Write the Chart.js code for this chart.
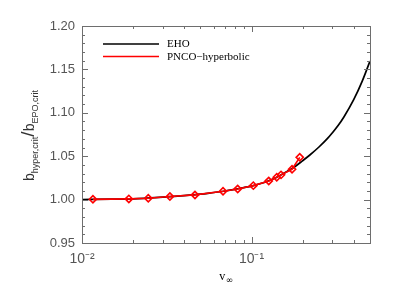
<!DOCTYPE html>
<html>
<head>
<meta charset="utf-8">
<script src="https://cdn.jsdelivr.net/npm/chart.js@4/dist/chart.umd.min.js"></script>
<style>
html,body{margin:0;padding:0;background:#fff;}
#wrap{width:395px;height:296px;}
</style>
</head>
<body>
<div id="wrap"><canvas id="c" width="395" height="296"></canvas></div>
<script>
// EHO curve
const vEHO = [0.01,0.015,0.02,0.03,0.04,0.05,0.06,0.07,0.08,0.09,0.1,0.12,0.14,0.16,0.18,0.2,0.22,0.25,0.28,0.3,0.325,0.35,0.4,0.45,0.5];
const bEHO = [1.0001,1.0005,1.0009,1.0028,1.0045,1.0062,1.0082,1.0099,1.0119,1.0138,1.0156,1.0200,1.0255,1.0317,1.0379,1.0447,1.0511,1.0606,1.0702,1.0770,1.0856,1.0949,1.1148,1.1365,1.1596];
// PNCO-hyperbolic points
const vPNCO = [0.0116,0.0189,0.0246,0.033,0.0464,0.0679,0.0829,0.1025,0.1264,0.1409,0.1493,0.1734,0.1925];
const bPNCO = [1.0003,1.0008,1.0015,1.0035,1.0054,1.0096,1.0123,1.0161,1.0215,1.0257,1.0285,1.0349,1.0487];
// ticks
const xMajor = [0.01,0.1];
const xMajorLabels = ['10\u207B\u00B2','10\u207B\u00B9'];
const xMinor = [0.02,0.03,0.04,0.05,0.06,0.07,0.08,0.09,0.2,0.3,0.4];
const yMajor = [0.95,1.00,1.05,1.10,1.15,1.20];
const yMinorStep = 0.01;
const seriesNames = ['EHO','PNCO\u2212hyperbolic'];

const frameColor = '#6e6e6e';
const textColor = '#555';

const decor = {
  id:'decor',
  afterDraw(chart){
    const ctx = chart.ctx, a = chart.chartArea;
    const xs = chart.scales.x, ys = chart.scales.y;
    ctx.save();
    ctx.strokeStyle = frameColor; ctx.lineWidth = 1;
    ctx.strokeRect(a.left+0.5, a.top+0.5, a.right-a.left, a.bottom-a.top);
    ctx.beginPath();
    // y ticks
    for (let v = 0.95; v <= 1.2001; v += yMinorStep) {
      const y = Math.round(ys.getPixelForValue(v)) + 0.5;
      const isMajor = yMajor.some(m => Math.abs(m - v) < 1e-6);
      const L = isMajor ? 6 : 3;
      ctx.moveTo(a.left, y); ctx.lineTo(a.left + L, y);
      ctx.moveTo(a.right, y); ctx.lineTo(a.right - L, y);
    }
    // x ticks
    const xt = [...xMajor.map(v=>[v,6]), ...xMinor.map(v=>[v,3])];
    for (const [v,L] of xt) {
      const x = Math.round(xs.getPixelForValue(v)) + 0.5;
      ctx.moveTo(x, a.bottom); ctx.lineTo(x, a.bottom - L);
      ctx.moveTo(x, a.top); ctx.lineTo(x, a.top + L);
    }
    ctx.stroke();

    // legend
    const ds = chart.data.datasets;
    const lx0 = 103, lx1 = 159, ly = [44, 56.5];
    ctx.font = '11px "Liberation Serif", serif';
    ctx.textBaseline = 'middle';
    for (let i = 0; i < 2; i++) {
      ctx.strokeStyle = ds[i].borderColor; ctx.lineWidth = 1.6;
      ctx.beginPath(); ctx.moveTo(lx0, ly[i]); ctx.lineTo(lx1, ly[i]); ctx.stroke();
      ctx.fillStyle = '#000';
      ctx.fillText(ds[i].label, 167, ly[i] + 0.5);
    }

    // x title: v_inf
    ctx.fillStyle = '#000';
    ctx.textBaseline = 'alphabetic';
    ctx.font = '12px "Liberation Serif", serif';
    const cx = (a.left + a.right) / 2;
    const wv = ctx.measureText('v').width;
    ctx.font = '9px "DejaVu Sans", sans-serif';
    const wi = ctx.measureText('\u221E').width;
    let x0 = cx - (wv + wi) / 2;
    ctx.font = '12px "Liberation Serif", serif';
    ctx.fillText('v', x0, 280);
    ctx.font = '9px "DejaVu Sans", sans-serif';
    ctx.fillText('\u221E', x0 + wv + 0.5, 283);

    // y title
    ctx.translate(34, (a.top + a.bottom) / 2 + 1);
    ctx.rotate(-Math.PI / 2);
    ctx.fillStyle = '#333';
    const parts = [
      ['b', '14px "Liberation Sans", sans-serif', 0],
      ['hyper,crit', '9px "Liberation Sans", sans-serif', 3.5],
      ['/', '19px "Liberation Sans", sans-serif', 0],
      ['b', '14px "Liberation Sans", sans-serif', 0],
      ['EPO,crit', '9px "Liberation Sans", sans-serif', 3.5]
    ];
    let tw = 0;
    for (const p of parts) { ctx.font = p[1]; tw += ctx.measureText(p[0]).width; }
    let px = -tw / 2;
    for (const p of parts) {
      ctx.font = p[1];
      ctx.fillText(p[0], px, p[2]);
      px += ctx.measureText(p[0]).width;
    }
    ctx.restore();
  }
};

new Chart(document.getElementById('c'), {
  type: 'scatter',
  data: {
    datasets: [
      {
        label: seriesNames[0],
        data: vEHO.map((v,i)=>({x:v, y:bEHO[i]})),
        showLine: true, borderColor: '#000', borderWidth: 1.7,
        pointRadius: 0, cubicInterpolationMode: 'monotone', order: 2
      },
      {
        label: seriesNames[1],
        data: vPNCO.map((v,i)=>({x:v, y:bPNCO[i]})),
        showLine: true, borderColor: '#f00', borderWidth: 1.6,
        pointStyle: 'rectRot', pointRadius: 3.6, pointBorderWidth: 1.6,
        pointBackgroundColor: 'rgba(0,0,0,0)', pointBorderColor: '#f00',
        backgroundColor: 'rgba(0,0,0,0)', order: 1
      }
    ]
  },
  options: {
    responsive: false, animation: false,
    layout: { padding: { top: 26, right: 25, left: 0, bottom: 0 } },
    plugins: { legend: { display: false }, tooltip: { enabled: false } },
    scales: {
      x: {
        type: 'logarithmic', min: 0.01, max: 0.5,
        afterBuildTicks: s => { s.ticks = xMajor.map(v => ({ value: v })); },
        afterFit: s => { s.height = 53; },
        grid: { display: false, drawTicks: false }, border: { display: false },
        ticks: {
          autoSkip: false, maxRotation: 0, padding: 8, color: textColor,
          font: { family: '"Liberation Sans", sans-serif', size: 14 },
          callback: (v, i) => xMajorLabels[xMajor.findIndex(m => Math.abs(m - v) < 1e-9)] ?? ''
        }
      },
      y: {
        min: 0.95, max: 1.2,
        afterBuildTicks: s => { s.ticks = yMajor.map(v => ({ value: v })); },
        afterFit: s => { s.width = 82; },
        grid: { display: false, drawTicks: false }, border: { display: false },
        ticks: {
          padding: 7, color: textColor,
          font: { family: '"Liberation Sans", sans-serif', size: 13 },
          callback: v => Number(v).toFixed(2)
        }
      }
    }
  },
  plugins: [decor]
});
</script>
</body>
</html>
